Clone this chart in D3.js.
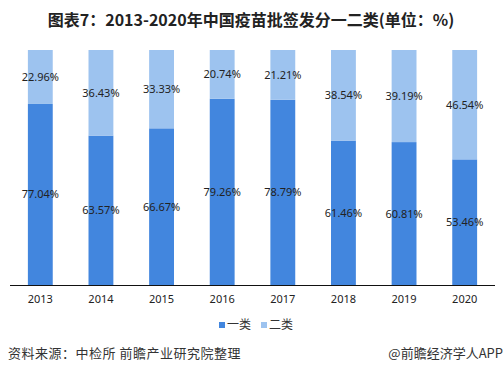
<!DOCTYPE html>
<html>
<head>
<meta charset="utf-8">
<script src="https://cdn.jsdelivr.net/npm/d3@7"></script>
<style>
  body { margin: 0; background: #fff; }
  svg { display: block; font-family: "Noto Sans CJK SC", "Noto Sans", sans-serif; }
</style>
</head>
<body>
<svg width="503" height="375"></svg>
<script>
var years = ["2013", "2014", "2015", "2016", "2017", "2018", "2019", "2020"];
var class1 = [77.04, 63.57, 66.67, 79.26, 78.79, 61.46, 60.81, 53.46];
var class2 = [22.96, 36.43, 33.33, 20.74, 21.21, 38.54, 39.19, 46.54];
var seriesNames = ["一类", "二类"];
var colors = ["#4286de", "#9dc3ef"];

var svg = d3.select("svg"),
    width = +svg.attr("width"),
    height = +svg.attr("height");

var rows = years.map(function(y, i) {
  return { year: y, "一类": class1[i], "二类": class2[i] };
});

var stack = d3.stack().keys(seriesNames);
var series = stack(rows);

var x = d3.scaleBand()
    .domain(years)
    .range([10, 495])
    .paddingInner(0.59)
    .paddingOuter(0.295);

var y = d3.scaleLinear()
    .domain([0, 100])
    .range([285, 50]);

// title
svg.append("text")
    .attr("x", 251)
    .attr("y", 26)
    .attr("text-anchor", "middle")
    .attr("font-size", "16px")
    .attr("font-weight", "bold")
    .attr("fill", "#222")
    .text("图表7：2013-2020年中国疫苗批签发分一二类(单位：%)");

var layer = svg.append("g")
  .selectAll("g")
  .data(series)
  .enter().append("g")
    .attr("fill", function(d, i) { return colors[i]; });

layer.selectAll("rect")
  .data(function(d) { return d; })
  .enter().append("rect")
    .attr("x", function(d) { return x(d.data.year); })
    .attr("y", function(d) { return y(d[1]); })
    .attr("width", x.bandwidth())
    .attr("height", function(d) { return y(d[0]) - y(d[1]); });

layer.selectAll("text")
  .data(function(d) { return d.map(function(p) { p.key = d.key; return p; }); })
  .enter().append("text")
    .attr("x", function(d) { return x(d.data.year) + x.bandwidth() / 2; })
    .attr("y", function(d) { return (y(d[0]) + y(d[1])) / 2 + 4; })
    .attr("text-anchor", "middle")
    .attr("font-family", "'Noto Sans', sans-serif")
    .attr("font-size", "11px")
    .attr("fill", "#222")
    .text(function(d) { return d.data[d.key].toFixed(2) + "%"; });

// x axis
var xAxis = svg.append("g")
    .attr("transform", "translate(0,285)")
    .call(d3.axisBottom(x).tickSize(0).tickPadding(10));
xAxis.select(".domain")
    .attr("stroke", "#111")
    .attr("d", "M10,0.5H495");
xAxis.selectAll("text")
    .attr("font-family", "'Noto Sans', sans-serif")
    .attr("font-size", "11px")
    .attr("fill", "#222");

// legend
var legend = svg.append("g")
    .attr("transform", "translate(217,326)");
var legItem = legend.selectAll("g")
  .data(seriesNames)
  .enter().append("g")
    .attr("transform", function(d, i) { return "translate(" + (i * 42) + ",0)"; });
legItem.append("rect")
    .attr("x", 2)
    .attr("y", -4)
    .attr("width", 6)
    .attr("height", 6)
    .attr("fill", function(d, i) { return colors[i]; });
legItem.append("text")
    .attr("x", 10)
    .attr("y", 3)
    .attr("font-size", "12px")
    .attr("fill", "#333")
    .text(function(d) { return d; });

// source
svg.append("text")
    .attr("x", 8)
    .attr("y", 358)
    .attr("font-size", "13px")
    .attr("letter-spacing", "0.5px")
    .attr("fill", "#333")
    .text("资料来源：中检所 前瞻产业研究院整理");

svg.append("text")
    .attr("x", 503)
    .attr("y", 358)
    .attr("text-anchor", "end")
    .attr("font-size", "13px")
    .attr("fill", "#333")
    .text("@前瞻经济学人APP");
</script>
</body>
</html>
